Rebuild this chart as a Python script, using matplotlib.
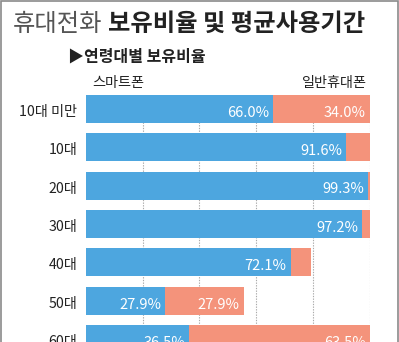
import matplotlib
matplotlib.use("Agg")
import matplotlib.pyplot as plt
from matplotlib.patches import Rectangle

plt.rcParams['font.family'] = ['Noto Sans CJK KR', 'DejaVu Sans']

categories = ["10대 미만", "10대", "20대", "30대", "40대", "50대", "60대"]
smart = [66.0, 91.6, 99.3, 97.2, 72.1, 27.9, 36.5]
feature = [34.0, 8.4, 0.7, 2.8, 7.1, 27.9, 63.5]
smart_labels = ["66.0%", "91.6%", "99.3%", "97.2%", "72.1%", "27.9%", "36.5%"]
feature_labels = ["34.0%", "", "", "", "", "27.9%", "63.5%"]
grid_ticks = [20, 40, 60, 80, 100]

W, H = 399, 342
fig = plt.figure(figsize=(W / 100, H / 100), dpi=100)
fig.patch.set_facecolor("white")

BLUE = "#4da6df"
ORANGE = "#f4937b"

# axes: x from 85.7px to 370px, y from 95px (top of first bar) to 342px
left, right = 85.7, 370.0
top, bottom = 95.0, 342.0
ax = fig.add_axes([left / W, 1 - bottom / H, (right - left) / W, (bottom - top) / H])
ax.set_xlim(0, 100)
ax.set_ylim(6.078, -0.365)
ax.axis("off")

for x in grid_ticks:
    ax.axvline(x, color="#aaaaaa", lw=0.8, ls=(0, (1.2, 1.2)), zorder=0)

ys = list(range(len(categories)))
bh = 0.73
ax.barh(ys, smart, height=bh, color=BLUE, zorder=2)
ax.barh(ys, feature, left=smart, height=bh, color=ORANGE, zorder=2)

px = 100 / (right - left)  # data units per pixel
for i, (s, f) in enumerate(zip(smart, feature)):
    ax.text(s - 4 * px, i + 0.1, smart_labels[i], color="white", ha="right",
            va="center", fontsize=10.5, zorder=3)
    if feature_labels[i]:
        ax.text(s + f - 4.5 * px, i + 0.1, feature_labels[i], color="white",
                ha="right", va="center", fontsize=10.5, zorder=3)
    ax.text(-8.5 * px, i + 0.08, categories[i], color="#222222", ha="right",
            va="center", fontsize=10.2, clip_on=False)

# Title
t1 = fig.text(13 / W, 1 - 24 / H, "휴대전화", fontsize=17.5, color="#555555",
              fontweight="light", va="center", ha="left")
fig.canvas.draw()
bb = t1.get_window_extent()
fig.text((bb.x1 + 6) / W, 1 - 24 / H, "보유비율 및 평균사용기간", fontsize=17.5,
         color="#222222", fontweight="bold", va="center", ha="left")

fig.text(68 / W, 1 - 57 / H, "▶연령대별 보유비율", fontsize=11.5,
         color="#222222", fontweight="bold", va="center", ha="left")
fig.text(92 / W, 1 - 83 / H, "스마트폰", fontsize=10.2, color="#222222",
         va="center", ha="left")
fig.text(366 / W, 1 - 83 / H, "일반휴대폰", fontsize=10.2, color="#222222",
         va="center", ha="right")

fig.patches.append(Rectangle((1.0 / W, -0.1), (W - 2.5) / W, 1.1 - 1.5 / H,
                             transform=fig.transFigure, fill=False,
                             edgecolor="#8a8a8a", lw=1.2))

fig.savefig("out.png", dpi=100, facecolor="white")
